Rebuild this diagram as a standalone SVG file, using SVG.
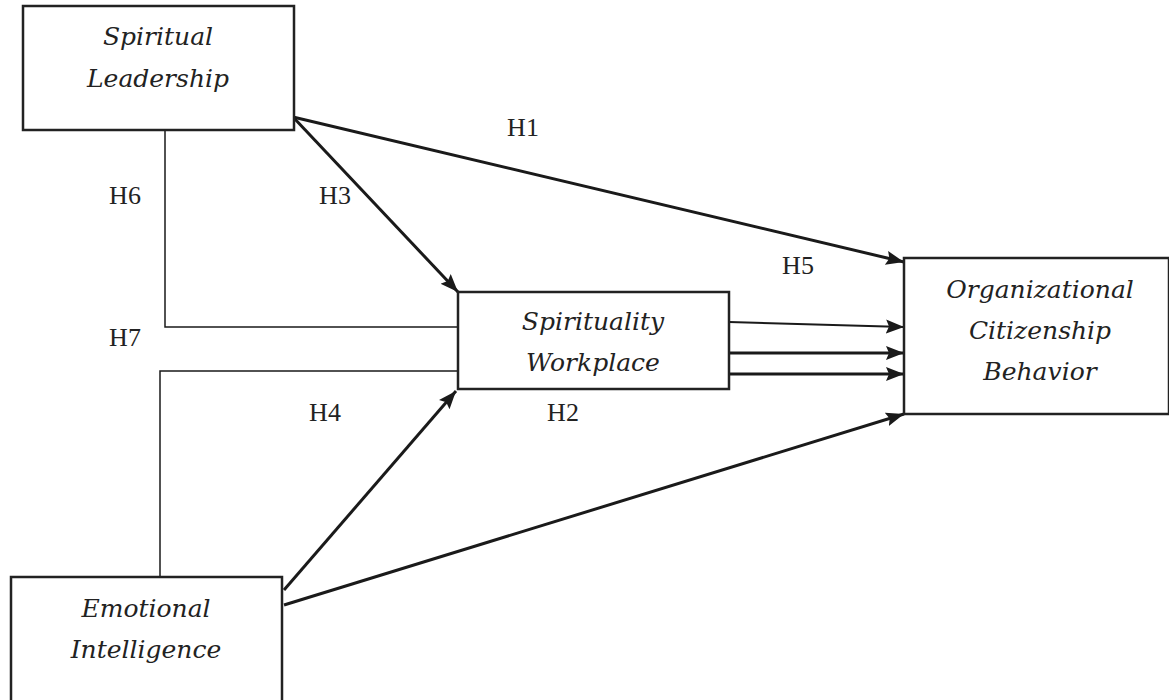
<svg xmlns="http://www.w3.org/2000/svg" width="1169" height="700" viewBox="0 0 1169 700">
<style>
.box{fill:#fff;stroke:#222;stroke-width:2.5}
.nt{font-family:"DejaVu Serif","Liberation Serif",serif;font-style:italic;font-size:25px;fill:#222;text-anchor:middle}
.lb{font-family:"Liberation Serif",serif;font-size:26px;fill:#222;text-anchor:middle}
.thick{stroke:#1a1a1a;stroke-width:3;fill:none}
.mid{stroke:#1a1a1a;stroke-width:2;fill:none}
.thin{stroke:#1a1a1a;stroke-width:1.5;fill:none}
</style>
<defs>
<marker id="ah" markerUnits="userSpaceOnUse" markerWidth="20" markerHeight="16" refX="18" refY="7" orient="auto">
<path d="M0,0 L18,7 L0,14 L3,7 z" fill="#1a1a1a"/>
</marker>
</defs>
<rect width="1169" height="700" fill="#fff"/>
<g id="connectors">
<polyline class="thin" points="165,130 165,327 458,327"/>
<polyline class="thin" points="160,577 160,371 458,371"/>
<line class="thick" x1="293" y1="117" x2="904" y2="262" marker-end="url(#ah)"/>
<line class="thick" x1="293" y1="117" x2="458" y2="292" marker-end="url(#ah)"/>
<line class="thick" x1="284" y1="590" x2="456" y2="391" marker-end="url(#ah)"/>
<line class="thick" x1="284" y1="605" x2="904" y2="414" marker-end="url(#ah)"/>
<line class="mid" x1="729" y1="322" x2="904" y2="327" marker-end="url(#ah)"/>
<line class="thick" x1="729" y1="353" x2="904" y2="353" marker-end="url(#ah)"/>
<line class="thick" x1="729" y1="374" x2="904" y2="374" marker-end="url(#ah)"/>
</g>
<g id="labels">
<text class="lb" x="523" y="136">H1</text>
<text class="lb" x="335" y="204">H3</text>
<text class="lb" x="125" y="204">H6</text>
<text class="lb" x="798" y="274">H5</text>
<text class="lb" x="125" y="346">H7</text>
<text class="lb" x="325" y="421">H4</text>
<text class="lb" x="563" y="421">H2</text>
</g>
<g id="spiritual-leadership">
<rect class="box" x="23" y="6" width="271" height="124"/>
<text class="nt" x="158" y="45">Spiritual</text>
<text class="nt" x="158" y="87">Leadership</text>
</g>
<g id="spirituality-workplace">
<rect class="box" x="458" y="292" width="271" height="97"/>
<text class="nt" x="593" y="330">Spirituality</text>
<text class="nt" x="593" y="371">Workplace</text>
</g>
<g id="ocb">
<rect class="box" x="904" y="258" width="265" height="156"/>
<text class="nt" x="1040" y="298">Organizational</text>
<text class="nt" x="1040" y="339">Citizenship</text>
<text class="nt" x="1040" y="380">Behavior</text>
</g>
<g id="emotional-intelligence">
<rect class="box" x="11" y="577" width="271" height="140"/>
<text class="nt" x="146" y="617">Emotional</text>
<text class="nt" x="146" y="658">Intelligence</text>
</g>
</svg>
